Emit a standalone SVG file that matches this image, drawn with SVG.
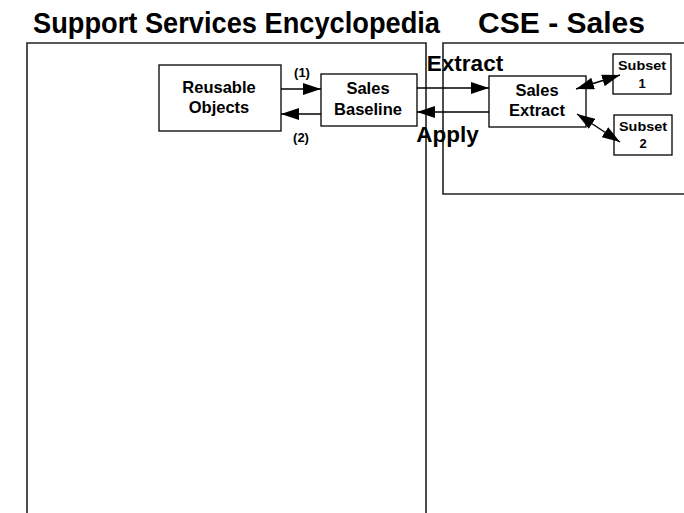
<svg xmlns="http://www.w3.org/2000/svg" width="684" height="513" viewBox="0 0 684 513">
<style>
.box{fill:#fff;stroke:#000;stroke-width:1.3}
.panel{fill:none;stroke:#222;stroke-width:1.6}
.t{font-family:"Liberation Sans",Arial,sans-serif;font-weight:bold;fill:#000;text-anchor:middle}
.c{stroke:#000;stroke-width:1.4;fill:none}
</style>
<defs>
<marker id="ah" viewBox="0 0 18 12" refX="18" refY="6" markerWidth="18" markerHeight="12" markerUnits="userSpaceOnUse" orient="auto-start-reverse">
<path d="M0,0 L18,6 L0,12 z" fill="#000"/>
</marker>
</defs>
<rect width="684" height="513" fill="#fff"/>
<g id="titles">
<text class="t" x="236.5" y="33" font-size="29" textLength="407" lengthAdjust="spacingAndGlyphs">Support Services Encyclopedia</text>
<text class="t" x="561.5" y="33" font-size="29" textLength="167" lengthAdjust="spacingAndGlyphs">CSE - Sales</text>
</g>
<g id="panels">
<polyline class="panel" points="27,515 27,43 426,43 426,515"/>
<polyline class="panel" points="686,43 443,43 443,194 686,194"/>
</g>
<g id="reusable">
<rect class="box" x="159" y="65" width="122" height="66"/>
<text class="t" x="219" y="93" font-size="16.5">Reusable</text>
<text class="t" x="219" y="113" font-size="16.5">Objects</text>
</g>
<g id="baseline">
<rect class="box" x="321" y="74" width="96" height="52"/>
<text class="t" x="368" y="94" font-size="16.5">Sales</text>
<text class="t" x="368" y="115" font-size="16.5">Baseline</text>
</g>
<g id="extract">
<rect class="box" x="489" y="76" width="97" height="51"/>
<text class="t" x="537" y="96" font-size="16.5">Sales</text>
<text class="t" x="537" y="116" font-size="16.5">Extract</text>
</g>
<g id="subset1">
<rect class="box" x="613" y="54" width="58" height="40"/>
<text class="t" x="642" y="70" font-size="13" textLength="48" lengthAdjust="spacingAndGlyphs">Subset</text>
<text class="t" x="642" y="88" font-size="13">1</text>
</g>
<g id="subset2">
<rect class="box" x="614" y="115" width="58" height="40"/>
<text class="t" x="643" y="131" font-size="13" textLength="48" lengthAdjust="spacingAndGlyphs">Subset</text>
<text class="t" x="643" y="148" font-size="13">2</text>
</g>
<g id="connectors">
<line class="c" x1="281" y1="89" x2="321" y2="89" marker-end="url(#ah)"/>
<line class="c" x1="321" y1="114" x2="281" y2="114" marker-end="url(#ah)"/>
<line class="c" x1="417" y1="88" x2="489" y2="88" marker-end="url(#ah)"/>
<line class="c" x1="489" y1="112" x2="417" y2="112" marker-end="url(#ah)"/>
<line class="c" x1="576" y1="89" x2="620" y2="75" marker-start="url(#ah)" marker-end="url(#ah)"/>
<line class="c" x1="577" y1="114" x2="620" y2="142" marker-start="url(#ah)" marker-end="url(#ah)"/>
<text class="t" x="302" y="77" font-size="13">(1)</text>
<text class="t" x="301" y="142" font-size="13">(2)</text>
<text class="t" x="465" y="71" font-size="22.5">Extract</text>
<text class="t" x="447.5" y="142" font-size="22.5">Apply</text>
</g>
</svg>
